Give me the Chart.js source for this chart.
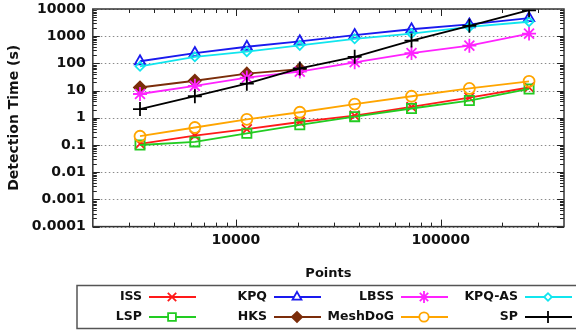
<!DOCTYPE html>
<html>
<head>
<meta charset="utf-8">
<script src="https://cdn.jsdelivr.net/npm/chart.js"></script>
<style>
  body { margin: 0; background: #fff; }
</style>
</head>
<body>
<canvas id="myChart" width="576" height="334"></canvas>
<script>
// number of points per mesh (x axis)
const points = [3400, 6300, 11300, 20500, 38000, 72000, 138000, 270000];

// detection time in seconds, one array per method
const iss = [0.11, 0.22, 0.38, 0.7, 1.2, 2.5, 5.5, 13];
const lsp = [0.1, 0.13, 0.27, 0.55, 1.1, 2.2, 4.3, 11.5];
const kpq = [120, 240, 410, 650, 1100, 1800, 2700, 4600];
const hks = [13, 23, 42, 62, null, null, null, null];
const lbss = [7.5, 15, 30, 50, 110, 240, 450, 1250];
const meshdog = [0.21, 0.44, 0.88, 1.6, 3.2, 6.2, 12, 22];
const kpqAs = [78, 175, 270, 460, 800, 1250, 2200, 3400];
const sp = [2.1, 6.2, 18, 65, 175, 690, 2400, 9000];

const yTicks = [0.0001, 0.001, 0.01, 0.1, 1, 10, 100, 1000, 10000];
const xTicks = [10000, 100000];

const series = [
    { label: "ISS", data: iss, color: "#ff1a1a", style: "crossRot", r: 7, fill: false },
    { label: "LSP", data: lsp, color: "#22cc22", style: "rect", r: 6.5, fill: false },
    { label: "KPQ", data: kpq, color: "#1a1aee", style: "triangle", r: 6, fill: false },
    { label: "HKS", data: hks, color: "#7b2d0a", style: "rectRot", r: 6, fill: true },
    { label: "LBSS", data: lbss, color: "#ff22ff", style: "star", r: 7, fill: false },
    { label: "MeshDoG", data: meshdog, color: "#ffa500", style: "circle", r: 5.5, fill: false },
    { label: "KPQ-AS", data: kpqAs, color: "#11e5ee", style: "rectRot", r: 4.5, fill: false },
    { label: "SP", data: sp, color: "#000000", style: "cross", r: 7, fill: false },
];

const font = "'DejaVu Sans', Verdana, sans-serif";

// dotted horizontal grid at the decades
const gridPlugin = {
    id: "dotGrid",
    beforeDatasetsDraw(chart) {
        const ctx = chart.ctx;
        const a = chart.chartArea;
        const ys = chart.scales.y;
        ctx.save();
        ctx.strokeStyle = "#8a8a8a";
        ctx.lineWidth = 1;
        ctx.setLineDash([1.5, 2.5]);
        ctx.beginPath();
        yTicks.forEach((v) => {
            const y = Math.round(ys.getPixelForValue(v)) + 0.5;
            ctx.moveTo(a.left, y);
            ctx.lineTo(a.right, y);
        });
        ctx.stroke();
        ctx.restore();
    },
};

// gnuplot style frame with inward ticks, plus the boxed legend
const framePlugin = {
    id: "frame",
    afterDraw(chart) {
        const ctx = chart.ctx;
        const a = chart.chartArea;
        const xs = chart.scales.x;
        const ys = chart.scales.y;
        ctx.save();
        ctx.strokeStyle = "#222";
        ctx.lineWidth = 1;
        ctx.beginPath();
        for (let e = -4; e < 4; e++) {
            for (let m = 1; m < 10; m++) {
                const y = Math.round(ys.getPixelForValue(m * Math.pow(10, e))) + 0.5;
                const len = m === 1 ? 7 : 4;
                ctx.moveTo(a.left, y);
                ctx.lineTo(a.left + len, y);
                ctx.moveTo(a.right, y);
                ctx.lineTo(a.right - len, y);
            }
        }
        for (let e = 3; e < 6; e++) {
            for (let m = 1; m < 10; m++) {
                const v = m * Math.pow(10, e);
                if (v <= 2000 || v >= 400000) continue;
                const x = Math.round(xs.getPixelForValue(v)) + 0.5;
                const len = m === 1 ? 7 : 4;
                ctx.moveTo(x, a.bottom);
                ctx.lineTo(x, a.bottom - len);
                ctx.moveTo(x, a.top);
                ctx.lineTo(x, a.top + len);
            }
        }
        ctx.stroke();
        ctx.lineWidth = 1.5;
        ctx.strokeStyle = "#333";
        ctx.strokeRect(a.left, a.top, a.right - a.left, a.bottom - a.top);

        // legend box
        ctx.lineWidth = 1.5;
        ctx.strokeStyle = "#555";
        ctx.strokeRect(77, 285.5, 520, 43);
        ctx.font = "bold 12.5px " + font;
        ctx.textAlign = "right";
        ctx.textBaseline = "middle";
        const colX = [142, 267, 394, 518];
        const rowY = [297, 317];
        series.forEach((s, i) => {
            const tx = colX[Math.floor(i / 2)];
            const ty = rowY[i % 2];
            ctx.fillStyle = "#111";
            ctx.fillText(s.label, tx, ty);
            ctx.strokeStyle = s.color;
            ctx.lineWidth = 1.8;
            ctx.beginPath();
            ctx.moveTo(tx + 7, ty);
            ctx.lineTo(tx + 54, ty);
            ctx.stroke();
            ctx.fillStyle = s.fill ? s.color : "#fff";
            Chart.helpers.drawPoint(ctx, {
                pointStyle: s.style,
                radius: s.r * 0.85,
                rotation: 0,
                borderWidth: 1.8,
            }, tx + 30, ty);
        });
        ctx.restore();
    },
};

const ctx = document.getElementById("myChart");

new Chart(ctx, {
    type: "line",
    data: {
        datasets: series.map((s, i) => ({
            label: s.label,
            data: points.map((p, j) => ({ x: p, y: s.data[j] })),
            borderColor: s.color,
            backgroundColor: s.fill ? s.color : "#ffffff",
            borderWidth: 1.8,
            pointStyle: s.style,
            pointRadius: s.r,
            pointBorderWidth: 1.8,
            pointBorderColor: s.color,
            pointBackgroundColor: s.fill ? s.color : "rgba(255,255,255,0)",
            tension: 0,
            order: -i,
        })),
    },
    options: {
        responsive: false,
        animation: false,
        layout: {
            padding: { left: 3, right: 12, top: 9, bottom: 49 },
        },
        plugins: {
            legend: { display: false },
            tooltip: { enabled: false },
        },
        scales: {
            x: {
                type: "logarithmic",
                min: 2000,
                max: 400000,
                afterBuildTicks: (scale) => {
                    scale.ticks = xTicks.map((v) => ({ value: v }));
                },
                afterFit: (scale) => {
                    scale.paddingLeft = 0;
                    scale.paddingRight = 0;
                },
                ticks: {
                    autoSkip: false,
                    maxRotation: 0,
                    padding: 5,
                    color: "#111",
                    font: { family: font, size: 14, weight: "bold" },
                    callback: (v) => String(v),
                },
                grid: { display: false, drawTicks: false },
                border: { display: false },
                title: {
                    display: true,
                    text: "Points",
                    color: "#111",
                    font: { family: font, size: 13, weight: "bold" },
                    padding: { top: 12, bottom: 4 },
                },
            },
            y: {
                type: "logarithmic",
                min: 0.0001,
                max: 10000,
                afterBuildTicks: (scale) => {
                    scale.ticks = yTicks.map((v) => ({ value: v }));
                },
                afterFit: (scale) => {
                    scale.paddingTop = 0;
                    scale.paddingBottom = 0;
                },
                ticks: {
                    autoSkip: false,
                    padding: 7,
                    color: "#111",
                    font: { family: font, size: 14, weight: "bold" },
                    callback: (v) => String(v),
                },
                grid: { display: false, drawTicks: false },
                border: { display: false },
                title: {
                    display: true,
                    text: "Detection Time (s)",
                    color: "#111",
                    font: { family: font, size: 14, weight: "bold" },
                    padding: { top: 3, bottom: 2 },
                },
            },
        },
    },
    plugins: [gridPlugin, framePlugin],
});
</script>
</body>
</html>
